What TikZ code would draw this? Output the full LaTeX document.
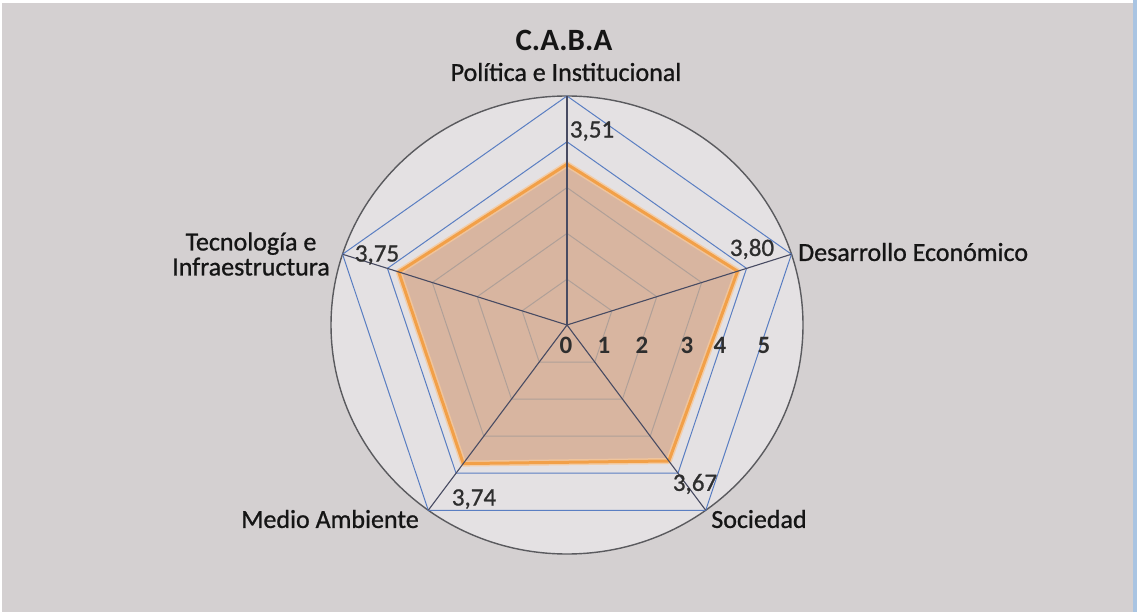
\documentclass[tikz,border=0pt]{standalone}
\usepackage{fontspec}
\setmainfont{Carlito}
\newfontfamily\semifont[FakeBold=0.9]{Carlito}
\definecolor{bgc}{HTML}{D4D0D1}
\definecolor{innerbg}{HTML}{E4E1E3}
\definecolor{edgeblue}{HTML}{A9C4E2}
\definecolor{circlegray}{HTML}{5A5A5E}
\definecolor{gridblue}{HTML}{5A7EC2}
\definecolor{gridin}{HTML}{B0A098}
\definecolor{areafill}{HTML}{D8B5A0}
\definecolor{spoke}{HTML}{484B62}
\definecolor{orangeline}{HTML}{F2A048}
\definecolor{orangeglow}{HTML}{F6C89A}
\definecolor{txt}{HTML}{151515}
\definecolor{valtxt}{HTML}{2E2E2E}
\tikzset{
  catlabel/.style={font=\semifont\fontsize{26}{26}\selectfont, text=txt, inner sep=0pt},
  vallabel/.style={font=\semifont\fontsize{25}{25}\selectfont, text=valtxt, inner sep=0pt},
  ticklabel/.style={font=\fontsize{25}{25}\selectfont\bfseries, text=valtxt, inner sep=0pt},
  gridline/.style={draw=gridblue, line width=1pt},
  gridinner/.style={draw=gridin, line width=1pt},
  spokeline/.style={draw=spoke, line width=1.1pt}
}
\begin{document}
\begin{tikzpicture}[x=1pt,y=-1pt]
\useasboundingbox (0,0) rectangle (1137,612);
\fill[bgc] (0,0) rectangle (1137,612);
\fill[white] (0,0) rectangle (1137,3);
\fill[white] (0,0) rectangle (2,612);
\fill[edgeblue] (1133,0) rectangle (1137,612);

\coordinate (O) at (567,325);
\fill[innerbg] (O) ellipse [x radius=236pt, y radius=229pt];

\begin{scope}[shift={(O)}, x=47.2pt, y=45.8pt]
  \foreach \l in {1,...,5}{
    \foreach \i in {0,...,4}{
      \coordinate (g\l-\i) at ({\l*sin(72*\i)}, {\l*cos(72*\i)});
    }
  }
  \coordinate (d0) at ({3.51*sin(0)}, {3.51*cos(0)});
  \coordinate (d1) at ({3.80*sin(72)}, {3.80*cos(72)});
  \coordinate (d2) at ({3.67*sin(144)}, {3.67*cos(144)});
  \coordinate (d3) at ({3.74*sin(216)}, {3.74*cos(216)});
  \coordinate (d4) at ({3.75*sin(288)}, {3.75*cos(288)});
\end{scope}

\draw[draw=circlegray, line width=1.4pt] (O) ellipse [x radius=236pt, y radius=229pt];

\foreach \l in {4,5}{
  \draw[gridline] (g\l-0) -- (g\l-1) -- (g\l-2) -- (g\l-3) -- (g\l-4) -- cycle;
}
\fill[areafill] (d0) -- (d1) -- (d2) -- (d3) -- (d4) -- cycle;
\foreach \l in {1,2,3}{
  \draw[gridinner] (g\l-0) -- (g\l-1) -- (g\l-2) -- (g\l-3) -- (g\l-4) -- cycle;
}
\draw[orangeglow, line width=6pt, line join=round, opacity=0.8] (d0) -- (d1) -- (d2) -- (d3) -- (d4) -- cycle;
\draw[orangeline, line width=3pt, line join=round] (d0) -- (d1) -- (d2) -- (d3) -- (d4) -- cycle;
\foreach \i in {0,...,4}{
  \draw[spokeline] (O) -- (g5-\i);
}

% titles and category labels
\node[catlabel, font=\fontsize{31}{31}\selectfont\bfseries] (title) at (564,40) {C.A.B.A};
\node[catlabel] (lpol) at (566,72) {Política e Institucional};
\node[catlabel, anchor=west] (ldes) at (798,252) {Desarrollo Económico};
\node[catlabel, align=center, font=\semifont\fontsize{26}{25}\selectfont] (ltec) at (251,254) {Tecnología e\\Infraestructura};
\node[catlabel] (lmed) at (330,519) {Medio Ambiente};
\node[catlabel] (lsoc) at (759,519) {Sociedad};

% value labels
\node[vallabel] (v0) at (592,131) {3,51};
\node[vallabel] (v1) at (752,249) {3,80};
\node[vallabel] (v4) at (377,255) {3,75};
\node[vallabel] (v3) at (474,499) {3,74};
\node[vallabel] (v2) at (695,484) {3,67};

% axis tick labels
\node[ticklabel] (t0) at (566,345) {0};
\node[ticklabel] (t1) at (604,345) {1};
\node[ticklabel] (t2) at (642,345) {2};
\node[ticklabel] (t3) at (687,345) {3};
\node[ticklabel] (t4) at (720,345) {4};
\node[ticklabel] (t5) at (764,345) {5};
\end{tikzpicture}
\end{document}
